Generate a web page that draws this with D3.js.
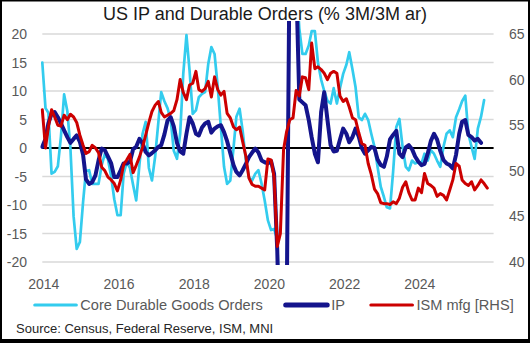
<!DOCTYPE html>
<html lang="en">
<head>
<meta charset="UTF-8">
<script src="https://d3js.org/d3.v7.min.js"></script>
<style>
  body { margin: 0; background: #fff; }
  svg { display: block; font-family: "Liberation Sans", Arial, sans-serif; }
  .grid { stroke: #d9d9d9; stroke-width: 1.3; }
  .tick-label { fill: #595959; font-size: 14px; }
  .legend-label { fill: #595959; font-size: 14.6px; }
</style>
</head>
<body>
<div class="chart"></div>
<script>
// monthly, Jan 2014 onwards
const coreOrders = [15, 7, 6.2, -4.5, -4.2, -3.2, 2, 9.4, 6.5, 0, -12, -17.7,
  -16.5, -9.5, -4, -3.9, -6.3, -6.3, -6.3, -3, -1, -2, -5, -9,
  -11.8, -11.8, -4.5, -2.5, -3.5, -6.5, -9.2, -3, 2.5, 4.6, -3.5, -5.7,
  -1.5, 4.5, 9.8, 8.2, 7, 5, -0.5, -1.9, 2.5, 13, 19.8, 13.6,
  6, 6.6, 8.9, 9.5, 9.8, 14.8, 17.7, 16.5, 10.7, 3.7, -3.3, -6.3,
  -5.7, 0, 5.5, 6.9, 3, -2.2, -5.1, -5.7, -4.5, -3.9, -6.3, -9.2,
  -12.7, -14.4, -14.2, -16, -35, -30, -25, 35, 40, 30, 21, 16.5,
  16.5, 18, 20.5, 20.5, 15, 12, 10, 8.3, 7.8, 10.5, 7.8, 10.5,
  13, 14.6, 16.8, 13.8, 10.7, 5.4, 4.9, 6, 4.9, 2.5, 0.2, -3.3,
  -6.8, -8.6, -10.4, -10.6, -4.2, 3.7, 5.1, 0.2, -3.3, -3.9, -2.2, -2.7,
  -2.5, -2.7, -1, -2.2, -0.4, -1, -2.2, -3.3, 0.2, 2.5, 3.1, 1.9,
  5.4, 6.8, 8.2, 9.2, 2.5, 0.2, -1.9, 3.4, 5.5, 8.4]

const ipGrowth = [0.2, 1.6, 4.3, 6, 6.3, 5.4, 4.3, 3.1, 1.9, 0.9, 1.6, 2.2,
  1.1, -1.2, -5.5, -6.3, -6, -4.8, -2.2, -0.1, -0.4, -1.5, -2.7, -5.1,
  -5.1, -3.9, -2.7, -2.7, -2.4, -0.2, 0.2, 1.6, 0.8, -0.7, -1.3, -0.9,
  -0.4, 0.2, 0.5, 2.4, 4.8, 5.4, 3.8, 0.9, -0.6, -1, 2.5, 5.4,
  4.3, 2.5, 2.2, 3.6, 4.3, 4.6, 2.7, 3.4, 3.8, 4, 2.8, 1.2,
  -0.9, -3, -4.2, -4.8, -3.9, -2.8, -1.6, -0.8, -0.1, -0.8, -2.2, -2.5,
  -2.7, -2.3, -4.5, -18, -40, -45, -30, 40, 45, 30, 8.5, 8,
  7.5, 4.9, 1.9, -1, -2.5, 6.3, 9.8, 5, 0.5, -0.6, -0.5, 1.5,
  3.4, 2.5, 1, 1.9, 3.4, 2, 0, -1, -0.4, 0.2, 0, -2,
  -3, -3.3, -1.5, 1.5, 2.3, 3, -1, -1.6, 0.1, 0.5, -0.2, -1.5,
  -2.4, -3, -2.8, -1, 1.2, 2.5, 1.5, -0.5, -2.1, -2.7, -3, -3.6,
  -1.2, 2.5, 4.6, 4.9, 2.3, 1.9, 1.3, 1.6, 0.9]

const ismMfg = [56.7, 52.5, 54.8, 56.7, 55.9, 55, 54.9, 56.1, 55.6, 56.2, 55.9, 55.3,
  53.9, 52.8, 51.9, 52.1, 52.8, 52.5, 52, 50.4, 50, 49.3, 49, 48.6,
  47.8, 49, 50.7, 51.2, 51.8, 49.8, 50.6, 51.5, 52.6, 53.9, 55.3, 56.5,
  57.2, 57.6, 56.4, 55.9, 56.1, 56.3, 56.6, 57.8, 60, 58.6, 57.8, 59.4,
  59.6, 60.9, 58.9, 58.7, 59, 59.8, 58.1, 60.3, 58.9, 58.3, 58.7, 56.3,
  55.8, 54.8, 54.5, 54.8, 53.2, 51.6, 49.2, 48.5, 48.3, 48.3, 48.1, 47.9,
  51.3, 51.2, 49.3, 41.7, 43.1, 52.3, 54.3, 55.6, 55.8, 58.8, 58.2, 60.3,
  60.2, 58.9, 64, 61.2, 61.4, 61.1, 60.7, 60, 60.7, 60.9, 60.7, 58.2,
  57.6, 57.9, 57, 55.8, 55.6, 54.2, 53, 52.8, 50.8, 49.6, 48, 47.5,
  46.5, 46.4, 46.4, 46.3, 46.6, 46.4, 47, 48.2, 48.8, 47.6, 46.8, 46.8,
  48.1, 47.6, 49.7, 48.6, 48.4, 48.1, 47.2, 47.5, 47.3, 46.8, 47.9, 49,
  50.8, 50.5, 49, 48.6, 48.4, 48.8, 47.9, 48.4, 49, 48.6, 48.1]

const leftTicks = [-20, -15, -10, -5, 0, 5, 10, 15, 20]
const rightTicks = [40, 45, 50, 55, 60, 65]
const yearTicks = [2014, 2016, 2018, 2020, 2022, 2024]

const seriesNames = ['Core Durable Goods Orders', 'IP', 'ISM mfg [RHS]']
const seriesColors = ['#33ccee', '#14148c', '#cc0000']
const seriesWidths = [2.7, 4, 3]

const width = 530, height = 343
const plot = { left: 42.3, right: 493.6, top: 34, bottom: 262 }

const monthDate = i => new Date(2014, i, 1)

const x = d3.scaleTime()
    .domain([new Date(2014, 0, 1), new Date(2026, 0, 1)])
    .range([plot.left, plot.right])
const yLeft = d3.scaleLinear().domain([-20, 20]).range([plot.bottom, plot.top])
const yRight = d3.scaleLinear().domain([40, 65]).range([plot.bottom, plot.top])

const svg = d3.select('.chart').append('svg')
    .attr('width', width)
    .attr('height', height)

svg.append('rect').attr('width', width).attr('height', height).attr('fill', '#fff')

svg.append('defs').append('clipPath').attr('id', 'plotclip')
    .append('rect')
    .attr('x', plot.left - 2).attr('y', 21)
    .attr('width', plot.right - plot.left + 4).attr('height', 244)

// gridlines
svg.append('g').selectAll('line')
    .data(leftTicks.filter(d => d !== 0))
    .enter().append('line')
    .attr('class', 'grid')
    .attr('x1', plot.left).attr('x2', plot.right)
    .attr('y1', d => yLeft(d)).attr('y2', d => yLeft(d))

// zero line
svg.append('line')
    .attr('x1', plot.left).attr('x2', plot.right)
    .attr('y1', yLeft(0)).attr('y2', yLeft(0))
    .attr('stroke', '#000').attr('stroke-width', 2)

// left axis labels
svg.append('g').selectAll('text')
    .data(leftTicks)
    .enter().append('text')
    .attr('class', 'tick-label')
    .attr('x', 27).attr('y', d => yLeft(d) + 5)
    .attr('text-anchor', 'end')
    .text(d => d)

// right axis labels
svg.append('g').selectAll('text')
    .data(rightTicks)
    .enter().append('text')
    .attr('class', 'tick-label')
    .attr('x', 509).attr('y', d => yRight(d) + 5)
    .text(d => d)

// year labels
svg.append('g').selectAll('text')
    .data(yearTicks)
    .enter().append('text')
    .attr('class', 'tick-label')
    .attr('x', d => x(new Date(d, 0, 1)) + 1.5).attr('y', 289)
    .attr('text-anchor', 'middle')
    .text(d => d)

// series
const lineLeft = d3.line().x((d, i) => x(monthDate(i))).y(d => yLeft(d))
const lineRight = d3.line().x((d, i) => x(monthDate(i))).y(d => yRight(d))

const lines = svg.append('g').attr('clip-path', 'url(#plotclip)')
const seriesData = [coreOrders, ipGrowth, ismMfg]
seriesData.forEach((s, k) => {
    lines.append('path')
        .attr('d', k === 2 ? lineRight(s) : lineLeft(s))
        .attr('fill', 'none')
        .attr('stroke', seriesColors[k])
        .attr('stroke-width', seriesWidths[k])
        .attr('stroke-linejoin', 'round')
        .attr('stroke-linecap', 'round')
})

// title
svg.append('text')
    .attr('x', 265).attr('y', 19.5)
    .attr('text-anchor', 'middle')
    .attr('font-size', 18)
    .attr('fill', '#1a1a1a')
    .text('US IP and Durable Orders (% 3M/3M ar)')

// legend
const legendX = [34.8, 285.7, 370.9]
const legend = svg.append('g')
seriesNames.forEach((name, k) => {
    legend.append('line')
        .attr('x1', legendX[k]).attr('x2', legendX[k] + 41.5)
        .attr('y1', 305).attr('y2', 305)
        .attr('stroke', seriesColors[k])
        .attr('stroke-width', k === 1 ? 5 : 3.2)
        .attr('stroke-linecap', 'round')
    legend.append('text')
        .attr('class', 'legend-label')
        .attr('x', legendX[k] + 45.5).attr('y', 310)
        .text(name)
})

// source
svg.append('text')
    .attr('x', 16).attr('y', 332.5)
    .attr('font-size', 13)
    .attr('fill', '#262626')
    .text('Source: Census, Federal Reserve, ISM, MNI')

// frame
svg.append('rect')
    .attr('x', 1).attr('y', 0.5)
    .attr('width', width - 2).attr('height', height - 2.5)
    .attr('fill', 'none').attr('stroke', '#000').attr('stroke-width', 2)
svg.append('rect')
    .attr('x', 0).attr('y', 339)
    .attr('width', width).attr('height', 4)
    .attr('fill', '#000')
</script>
</body>
</html>
